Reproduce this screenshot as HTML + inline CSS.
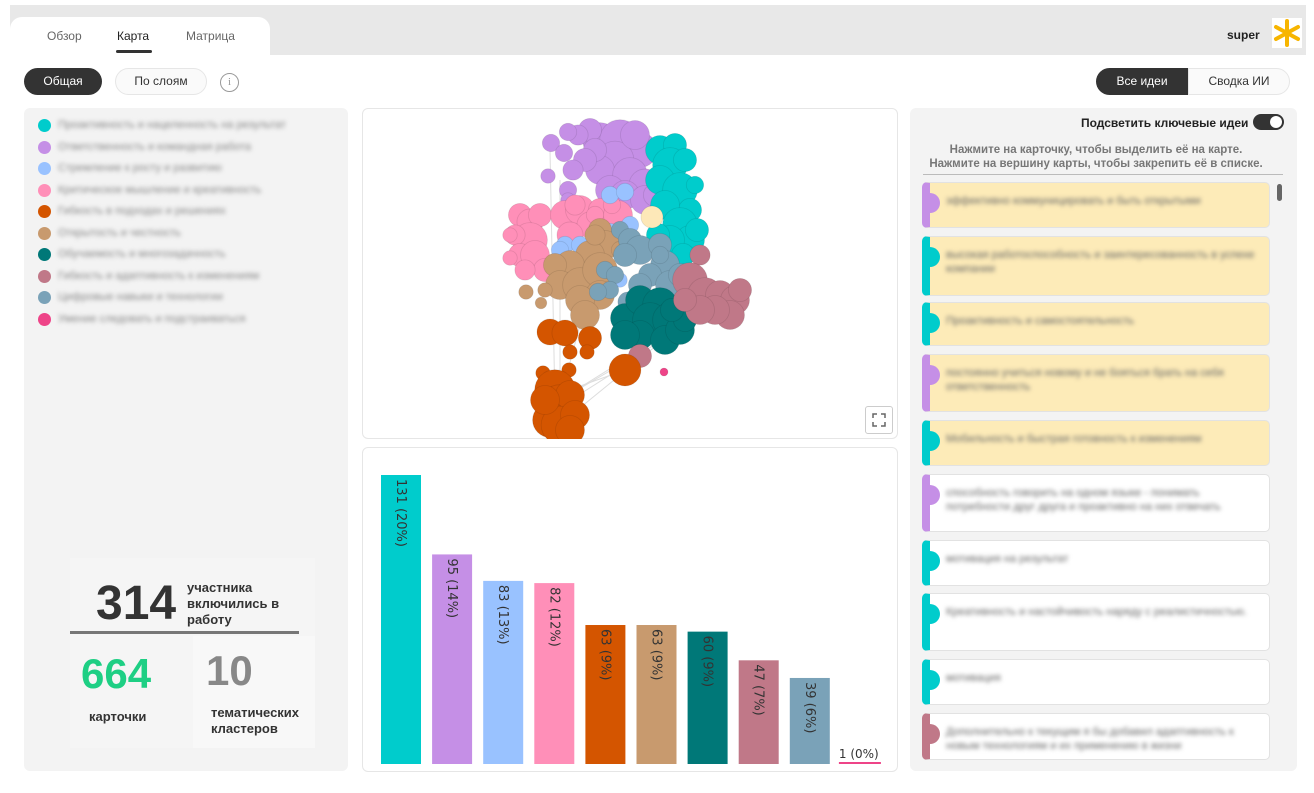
<!DOCTYPE html>
<html><head><meta charset="utf-8">
<style>
*{box-sizing:border-box;margin:0;padding:0}
body{width:1314px;height:793px;position:relative;background:#fff;font-family:"Liberation Sans",sans-serif;overflow:hidden;color:#333}
.abs{position:absolute}
.blur{filter:blur(2.2px);color:#888}
</style></head><body>
<div class="abs" style="left:10px;top:5px;width:1296px;height:50px;background:#e8e8e8"></div>
<div class="abs" style="left:10px;top:17px;width:260px;height:38px;background:#fff;border-radius:12px 12px 0 0"></div>
<div class="abs" style="left:47px;top:29px;font-size:12px;color:#666">Обзор</div>
<div class="abs" style="left:117px;top:29px;font-size:12px;color:#222">Карта</div>
<div class="abs" style="left:116px;top:50px;width:36px;height:3px;background:#333;border-radius:2px"></div>
<div class="abs" style="left:186px;top:29px;font-size:12px;color:#666">Матрица</div>
<div class="abs" style="left:1227px;top:28px;font-size:12px;font-weight:bold;color:#222">super</div>
<svg class="abs" style="left:1272px;top:18px" width="30" height="30" viewBox="0 0 30 30"><rect width="30" height="30" fill="#fff"/><g stroke="#f7b500" stroke-width="4" stroke-linecap="round"><line x1="15" y1="3" x2="15" y2="27"/><line x1="4" y1="9" x2="26" y2="21"/><line x1="4" y1="21" x2="26" y2="9"/></g></svg>
<div class="abs" style="left:10px;top:55px;width:1296px;height:726px;background:#fff"></div>

<div class="abs" style="left:24px;top:68px;width:78px;height:27px;background:#333;color:#fff;border-radius:14px;font-size:12px;text-align:center;line-height:27px">Общая</div>
<div class="abs" style="left:115px;top:68px;width:92px;height:27px;background:#fafafa;border:1px solid #e6e6e6;color:#333;border-radius:14px;font-size:12px;text-align:center;line-height:25px">По слоям</div>
<div class="abs" style="left:220px;top:73px;width:19px;height:19px;border:1px solid #999;border-radius:50%;font-size:11px;color:#999;text-align:center;line-height:17px;font-family:'Liberation Serif',serif">i</div>

<div class="abs" style="left:1096px;top:68px;width:92px;height:27px;background:#333;color:#fff;border-radius:14px 0 0 14px;font-size:12px;text-align:center;line-height:27px">Все идеи</div>
<div class="abs" style="left:1188px;top:68px;width:102px;height:27px;background:#fafafa;border:1px solid #e6e6e6;border-radius:0 14px 14px 0;font-size:12px;text-align:center;line-height:25px;color:#333">Сводка ИИ</div>

<!-- Left panel -->
<div class="abs" style="left:24px;top:108px;width:324px;height:663px;background:#f3f3f3;border-radius:6px"></div>
<div id="legend" class="abs" style="left:38px;top:119px"></div>

<div class="abs" style="left:70px;top:558px;width:245px;height:190px;background:#f5f5f5"></div>
<div class="abs" style="left:96px;top:576px;font-size:48px;font-weight:bold;color:#333">314</div>
<div class="abs" style="left:187px;top:580px;font-size:13px;font-weight:bold;line-height:16px;color:#333">участника<br>включились в<br>работу</div>
<div class="abs" style="left:70px;top:631px;width:229px;height:3px;background:#777"></div>
<div class="abs" style="left:81px;top:650px;font-size:42px;font-weight:bold;color:#1ecf84">664</div>
<div class="abs" style="left:89px;top:709px;font-size:13px;font-weight:bold;color:#333">карточки</div>
<div class="abs" style="left:193px;top:636px;width:122px;height:112px;background:#f8f8f8"></div>
<div class="abs" style="left:206px;top:647px;font-size:42px;font-weight:bold;color:#888">10</div>
<div class="abs" style="left:211px;top:705px;font-size:13px;font-weight:bold;line-height:16px;color:#333">тематических<br>кластеров</div>

<!-- Map panel -->
<div class="abs" style="left:362px;top:108px;width:536px;height:331px;border:1px solid #e6e6e6;border-radius:6px;background:#fff"></div>
<svg id="map" class="abs" style="left:362px;top:108px" width="536" height="331"></svg>
<div class="abs" style="left:865px;top:406px;width:28px;height:28px;border:1px solid #ccc;border-radius:3px;background:#fff">
<svg width="26" height="26" viewBox="0 0 26 26"><path d="M7 11V7h4M15 7h4v4M19 15v4h-4M11 19H7v-4" fill="none" stroke="#666" stroke-width="1.5"/></svg></div>

<!-- Bar panel -->
<div class="abs" style="left:362px;top:447px;width:536px;height:325px;border:1px solid #e6e6e6;border-radius:6px;background:#fff"></div>
<svg id="bars" class="abs" style="left:362px;top:447px" width="536" height="325"></svg>

<!-- Right panel -->
<div class="abs" style="left:910px;top:108px;width:387px;height:663px;background:#f3f3f3;border-radius:6px"></div>
<div class="abs" style="left:1081px;top:116px;font-size:12px;font-weight:bold;color:#222">Подсветить ключевые идеи</div>
<div class="abs" style="left:1253px;top:114px;width:31px;height:16px;background:#333;border-radius:8px"><div style="position:absolute;right:2px;top:2px;width:12px;height:12px;background:#fff;border-radius:50%"></div></div>
<div class="abs" style="left:922px;top:143px;width:348px;text-align:center;font-size:11.5px;font-weight:bold;color:#777;line-height:14px">Нажмите на карточку, чтобы выделить её на карте.<br>Нажмите на вершину карты, чтобы закрепить её в списке.</div>
<div class="abs" style="left:923px;top:174px;width:360px;height:1px;background:#bbb"></div>
<div class="abs" style="left:1277px;top:184px;width:5px;height:17px;background:#666;border-radius:3px"></div>
<div id="cards" class="abs" style="left:0;top:0"></div>

<script>
var clusterNames=["Проактивность и нацеленность на результат","Ответственность и командная работа","Стремление к росту и развитию","Критическое мышление и креативность","Гибкость в подходах и решениях","Открытость и честность","Обучаемость и многозадачность","Гибкость и адаптивность к изменениям","Цифровые навыки и технологии","Умение следовать и подстраиваться"];
var clusterColors=["#00cccc","#c58fe6","#99c2ff","#ff8fb8","#d45500","#c89a6e","#007878","#c07888","#7aa2b8","#ee4488"];
var barValues=[131,95,83,82,63,63,60,47,39,1];
var barLabels=["131 (20%)","95 (14%)","83 (13%)","82 (12%)","63 (9%)","63 (9%)","60 (9%)","47 (7%)","39 (6%)","1 (0%)"];

// legend
var lg=document.getElementById('legend');
clusterNames.forEach(function(n,i){
  var row=document.createElement('div');
  
  
  row.style.cssText='position:absolute;left:0;top:'+(i*21.5)+'px;white-space:nowrap;height:14px';
  row.innerHTML='<span style="position:absolute;left:0;top:0;width:13px;height:13px;border-radius:50%;background:'+clusterColors[i]+'"></span><span class="blur" style="position:absolute;left:20px;top:0;font-size:11px">'+n+'</span>';
  lg.appendChild(row);
});

// bars
var NS='http://www.w3.org/2000/svg';
var svg=document.getElementById('bars');
var baseY=317,scale=289/131,x0=19,step=51.1,bw=40;
function yOf(v){return baseY-v*scale;}
barValues.forEach(function(v,i){
  var x=x0+i*step;
  if(v>2){
    var r=document.createElementNS(NS,'rect');
    
    
    r.setAttribute('x',x);r.setAttribute('y',yOf(v));r.setAttribute('width',bw);r.setAttribute('height',baseY-yOf(v));
    r.setAttribute('fill',clusterColors[i]);
    svg.appendChild(r);
    var t=document.createElementNS(NS,'text');
    
    
    t.setAttribute('transform','translate('+(x+bw/2-4)+','+(yOf(v)+4)+') rotate(90)');
    t.setAttribute('font-size','13');t.setAttribute('fill','#333');
    t.setAttribute('font-family','DejaVu Sans, sans-serif');
    t.textContent=barLabels[i];
    svg.appendChild(t);
  } else {
    var l=document.createElementNS(NS,'rect');
    
    
    l.setAttribute('x',x-2);l.setAttribute('y',baseY-2);l.setAttribute('width',bw+2);l.setAttribute('height',2);
    l.setAttribute('fill',clusterColors[i]);
    svg.appendChild(l);
    var t2=document.createElementNS(NS,'text');
    
    
    t2.setAttribute('x',x-2);t2.setAttribute('y',baseY-6);
    t2.setAttribute('font-size','12');t2.setAttribute('fill','#333');
    t2.setAttribute('font-family','DejaVu Sans, sans-serif');
    t2.textContent=barLabels[i];
    svg.appendChild(t2);
  }
});

// map points [x,y,r] in page coords, per cluster
var ptsPurple=[[600,140,12],[620,140,14],[640,150,12],[615,160,13],[600,170,10],[630,175,12],[645,185,11],[610,190,10],[625,195,10],[645,200,10],[590,130,8],[595,150,8],[585,160,8],[578,135,7],[568,132,6],[551,143,6],[564,153,6],[573,170,7],[548,176,5],[568,190,6],[568,200,5],[635,135,10],[655,195,8]];
var ptsCyan=[[660,150,10],[675,145,8],[670,165,12],[685,160,8],[660,180,10],[680,190,12],[690,210,8],[665,205,10],[680,225,12],[690,240,10],[670,240,10],[697,230,8],[658,235,8],[683,255,8],[695,185,6]];
var ptsPink=[[520,215,8],[530,222,9],[540,215,8],[530,240,12],[515,235,7],[520,255,8],[535,255,10],[545,270,8],[525,270,7],[510,258,5],[510,235,5],[565,215,10],[580,210,10],[590,225,9],[600,210,8],[570,235,9],[575,205,7],[618,215,10],[612,205,6],[595,215,6]];
var ptsLightBlue=[[610,195,6],[625,192,6],[610,235,8],[565,245,6],[560,250,6],[580,245,6],[630,225,6],[560,285,5],[620,280,5]];
var ptsTan=[[600,230,8],[605,245,10],[590,255,10],[570,265,10],[555,265,8],[560,285,10],[580,285,12],[600,270,12],[600,295,10],[580,300,10],[585,315,10],[620,250,6],[595,235,7],[545,290,5],[526,292,5],[541,303,4]];
var ptsSteel=[[620,230,6],[630,240,8],[640,250,10],[625,255,8],[660,245,8],[665,265,10],[650,275,8],[670,285,10],[680,275,8],[640,285,8],[605,270,6],[615,275,6],[610,290,6],[598,292,6],[628,302,7],[660,255,6],[668,300,5]];
var ptsTeal=[[625,318,10],[640,300,10],[660,305,12],[650,320,12],[670,320,12],[640,335,10],[625,335,10],[665,340,10],[680,330,10],[685,320,8],[672,310,8]];
var ptsMauve=[[700,255,7],[690,280,12],[705,295,12],[720,295,10],[735,300,10],[730,315,10],[715,310,10],[700,310,10],[685,300,8],[740,290,8],[640,356,8]];
var ptsOrange=[[550,332,9],[565,333,9],[590,338,8],[570,352,5],[587,352,5],[569,370,5],[543,373,5],[625,370,11],[555,390,14],[560,405,14],[550,420,12],[570,395,10],[560,425,13],[545,400,10],[575,415,10],[570,430,10]];
var ptsMagenta=[[664,372,4]];
var ptsCream=[[652,217,10]];
var edges=[[560,400,600,250],[560,400,680,330],[560,400,720,300],[555,410,640,356],[555,395,625,370],[560,390,560,180],[555,405,550,150],[565,420,700,310]];

var map=document.getElementById('map');
var g=document.createElementNS(NS,'g');g.setAttribute('transform','translate(-362,-108)');map.appendChild(g);
edges.forEach(function(e){
  var l=document.createElementNS(NS,'line');
  
  
  l.setAttribute('x1',e[0]);l.setAttribute('y1',e[1]);l.setAttribute('x2',e[2]);l.setAttribute('y2',e[3]);
  l.setAttribute('stroke','#ddd');l.setAttribute('stroke-width','1');
  g.appendChild(l);
});
var rScale=1.45;
function drawPts(pts,col,name,k){
  pts.forEach(function(p){
    var c=document.createElementNS(NS,'circle');
    
    
    c.setAttribute('cx',p[0]);c.setAttribute('cy',p[1]);c.setAttribute('r',p[2]*(k||rScale));
    c.setAttribute('fill',col);c.setAttribute('stroke','rgba(0,0,0,0.1)');c.setAttribute('stroke-width','0.8');
    g.appendChild(c);
  });
}
drawPts(ptsPurple,clusterColors[1],'map-node-purple');
drawPts(ptsCyan,clusterColors[0],'map-node-cyan');
drawPts(ptsPink,clusterColors[3],'map-node-pink');
drawPts(ptsLightBlue,clusterColors[2],'map-node-lightblue');
drawPts(ptsTan,clusterColors[5],'map-node-tan');
drawPts(ptsSteel,clusterColors[8],'map-node-steel');
drawPts(ptsTeal,clusterColors[6],'map-node-teal');
drawPts(ptsMauve,clusterColors[7],'map-node-mauve');
drawPts(ptsOrange,clusterColors[4],'map-node-orange');
drawPts(ptsMagenta,clusterColors[9],'map-node-magenta',1);
drawPts(ptsCream,'#fde8b8','map-node-selected',1.1);

// cards
var cardTexts=["эффективно коммуницировать и быть открытыми","высокая работоспособность и заинтересованность в успехе компании","Проактивность и самостоятельность","постоянно учиться новому и не бояться брать на себя ответственность","Мобильность и быстрая готовность к изменениям","способность говорить на одном языке - понимать потребности друг друга и проактивно на них отвечать","мотивация на результат","Креативность и настойчивость наряду с реалистичностью.","мотивация","Дополнительно к текущим я бы добавил адаптивность к новым технологиям и их применению в жизни"];
var cardTops=[182,236,302,354,420,474,540,593,659,713];
var cardHeights=[46,60,44,58,46,58,46,58,46,48];
var cardColorIdx=[1,0,0,1,0,1,0,0,0,7];
var cardHighlighted=[1,1,1,1,1,0,0,0,0,0];
var cw=document.getElementById('cards');
cardTexts.forEach(function(t,i){
  var d=document.createElement('div');
  
  
  var top=cardTops[i],h=Math.min(cardHeights[i],760-top);
  d.style.cssText='position:absolute;left:922px;top:'+top+'px;width:348px;height:'+h+'px;background:'+(cardHighlighted[i]?'#fdebb8':'#fff')+';border:1px solid #e2e2e2;border-left:8px solid '+clusterColors[cardColorIdx[i]]+';border-radius:5px;overflow:hidden';
  d.innerHTML='<span style="position:absolute;left:-2px;top:10px;width:12px;height:20px;border-radius:0 10px 10px 0;background:'+clusterColors[cardColorIdx[i]]+'"></span><div class="blur" style="position:absolute;left:16px;top:11px;width:318px;font-size:11px;line-height:14px;color:#666">'+t+'</div>';
  cw.appendChild(d);
});
</script>
</body></html>
